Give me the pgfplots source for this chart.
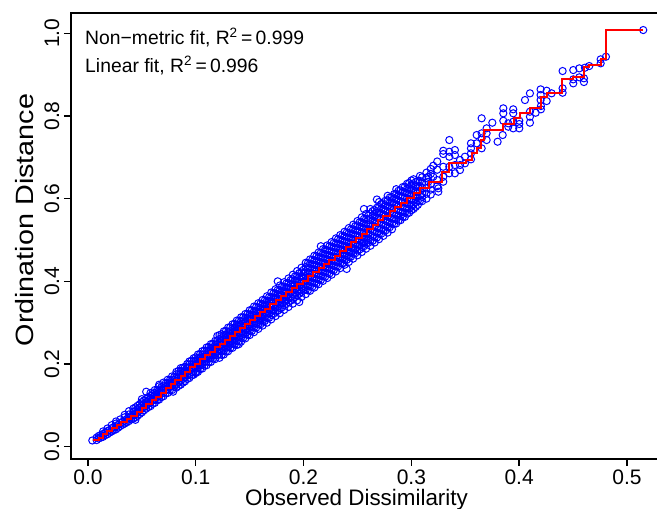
\documentclass[border=0pt]{standalone}
\usepackage{fontspec}
\setmainfont{Liberation Sans}
\usepackage{graphicx}
\usepackage{pgfplots}
\usepackage{pgfplotstable}
\pgfplotsset{compat=1.18}

% dense part of the Shepard cloud: one row per dissimilarity column
\pgfplotstableread{
x a b c d e f g h
0.004 0.015 nan nan nan nan nan nan nan
0.010 0.020 0.026 nan nan nan nan nan nan
0.014 0.024 0.031 0.037 nan nan nan nan nan
0.018 0.030 0.038 0.044 nan nan nan nan nan
0.022 0.037 0.045 0.052 nan nan nan nan nan
0.026 0.042 0.049 0.056 0.061 nan nan nan nan
0.030 0.050 0.058 0.066 nan nan nan nan nan
0.034 0.056 0.063 0.071 0.077 nan nan nan nan
0.038 0.062 0.070 0.078 0.086 nan nan nan nan
0.042 0.068 0.076 0.084 0.092 nan nan nan nan
0.046 0.075 0.083 0.091 0.099 nan nan nan nan
0.050 0.083 0.092 0.100 0.108 0.115 nan nan nan
0.054 0.092 0.100 0.108 0.116 nan nan nan nan
0.058 0.098 0.107 0.115 0.123 0.130 nan nan nan
0.062 0.106 0.114 0.122 0.130 0.137 nan nan nan
0.066 0.114 0.122 0.130 0.138 0.146 nan nan nan
0.070 0.122 0.130 0.138 0.146 0.155 nan nan nan
0.074 0.130 0.138 0.146 0.154 0.162 nan nan nan
0.078 0.137 0.146 0.154 0.162 0.170 nan nan nan
0.082 0.143 0.151 0.159 0.167 0.175 0.181 nan nan
0.086 0.150 0.159 0.167 0.175 0.183 0.190 nan nan
0.090 0.158 0.167 0.176 0.184 0.193 nan nan nan
0.094 0.166 0.174 0.183 0.191 0.199 0.206 nan nan
0.098 0.174 0.183 0.191 0.199 0.207 0.214 nan nan
0.102 0.181 0.190 0.198 0.207 0.215 0.223 nan nan
0.106 0.189 0.198 0.206 0.215 0.223 0.231 nan nan
0.110 0.197 0.206 0.215 0.223 0.232 0.240 nan nan
0.114 0.205 0.214 0.222 0.231 0.239 0.248 nan nan
0.118 0.212 0.221 0.230 0.239 0.247 0.256 nan nan
0.122 0.215 0.224 0.234 0.243 0.252 0.261 0.270 nan
0.126 0.223 0.232 0.242 0.251 0.260 0.270 0.279 nan
0.130 0.231 0.241 0.250 0.260 0.269 0.278 0.288 nan
0.134 0.239 0.249 0.258 0.268 0.277 0.287 0.296 nan
0.138 0.246 0.256 0.266 0.276 0.286 0.295 0.305 nan
0.142 0.254 0.264 0.274 0.284 0.294 0.304 0.313 nan
0.146 0.262 0.272 0.282 0.292 0.302 0.312 0.321 nan
0.150 0.270 0.280 0.290 0.300 0.310 0.320 0.330 nan
0.154 0.277 0.288 0.298 0.308 0.318 0.328 0.339 nan
0.158 0.285 0.296 0.306 0.316 0.326 0.337 0.347 nan
0.162 0.293 0.303 0.314 0.324 0.334 0.345 0.355 nan
0.166 0.300 0.311 0.322 0.332 0.343 0.353 0.364 nan
0.170 0.308 0.319 0.330 0.341 0.352 0.362 0.373 nan
0.174 0.316 0.327 0.338 0.349 0.360 0.371 0.381 nan
0.178 0.323 0.335 0.346 0.357 0.368 0.379 0.390 nan
0.182 0.331 0.342 0.354 0.365 0.376 0.387 0.398 nan
0.186 0.338 0.350 0.362 0.373 0.384 0.396 0.407 nan
0.190 0.346 0.358 0.370 0.381 0.393 0.405 0.416 nan
0.194 0.354 0.366 0.378 0.390 0.401 0.413 0.425 nan
0.198 0.362 0.374 0.386 0.398 0.410 0.421 0.433 nan
0.202 0.369 0.380 0.391 0.402 0.413 0.424 0.435 0.445
0.206 0.377 0.388 0.399 0.410 0.421 0.432 0.443 0.453
0.210 0.385 0.396 0.407 0.418 0.429 0.440 0.451 0.462
0.214 0.393 0.404 0.415 0.426 0.437 0.448 0.459 0.470
0.218 0.401 0.412 0.423 0.434 0.445 0.456 0.467 0.478
0.222 0.408 0.420 0.431 0.442 0.453 0.464 0.475 0.487
0.226 0.416 0.428 0.439 0.450 0.461 0.472 0.484 0.495
0.230 0.424 0.436 0.447 0.458 0.470 0.481 0.492 0.504
0.234 0.432 0.444 0.455 0.467 0.478 0.489 0.501 0.512
0.238 0.440 0.452 0.463 0.475 0.486 0.497 0.509 0.520
0.242 0.447 0.459 0.471 0.483 0.494 0.506 0.517 0.529
0.246 0.455 0.467 0.479 0.491 0.502 0.514 0.526 0.537
0.250 0.463 0.475 0.487 0.499 0.511 0.523 0.535 0.546
0.254 0.471 0.483 0.495 0.507 0.519 0.531 0.543 0.555
0.258 0.479 0.491 0.503 0.515 0.527 0.539 0.551 0.563
0.262 0.486 0.499 0.512 0.525 0.538 0.551 0.564 0.575
0.266 0.494 0.507 0.520 0.533 0.546 0.559 0.572 nan
0.270 0.502 0.515 0.528 0.541 0.554 0.567 0.580 0.592
0.274 0.510 0.523 0.536 0.549 0.562 0.575 0.588 nan
0.278 0.518 0.531 0.544 0.557 0.570 0.583 0.596 0.607
0.282 0.526 0.539 0.552 0.565 0.578 0.591 0.604 nan
0.286 0.540 0.550 0.560 0.573 0.586 0.599 0.612 0.623
0.290 0.548 0.558 0.568 0.581 0.594 0.607 0.620 nan
0.294 0.556 0.566 0.577 0.590 0.603 0.616 0.629 nan
0.298 0.566 0.576 0.586 0.599 0.612 0.625 0.638 nan
0.302 0.575 0.585 0.595 0.608 0.621 0.634 0.647 nan
0.306 0.585 0.595 0.604 0.617 0.630 0.643 nan nan
0.310 0.594 0.604 0.613 0.626 0.639 0.652 nan nan
0.314 0.600 0.612 0.625 0.650 0.663 nan nan nan
0.318 0.610 0.622 0.635 0.660 0.672 nan nan nan
0.324 0.630 0.645 0.670 0.690 nan nan nan nan
}\cloud

% interleaved columns of the dense cloud
\pgfplotstableread{
x a b c d e f g
0.008 0.016 0.022 nan nan nan nan nan
0.012 0.022 0.028 nan nan nan nan nan
0.016 0.028 0.034 nan nan nan nan nan
0.020 0.034 0.040 nan nan nan nan nan
0.024 0.040 0.047 nan nan nan nan nan
0.028 0.046 0.053 nan nan nan nan nan
0.032 0.053 0.060 nan nan nan nan nan
0.036 0.059 0.067 nan nan nan nan nan
0.040 0.066 0.074 nan nan nan nan nan
0.044 0.071 0.079 0.087 0.095 nan nan nan
0.048 0.079 0.087 0.095 0.103 nan nan nan
0.052 0.088 0.096 0.104 0.112 nan nan nan
0.056 0.096 0.104 0.112 0.120 nan nan nan
0.060 0.104 0.112 0.120 0.128 nan nan nan
0.064 0.112 0.120 0.128 0.136 nan nan nan
0.068 0.120 0.128 0.136 0.144 nan nan nan
0.072 0.129 0.137 0.145 0.153 nan nan nan
0.076 0.137 0.145 0.153 0.161 nan nan nan
0.080 0.145 0.153 0.161 0.169 nan nan nan
0.084 0.147 0.156 0.165 0.174 0.183 nan nan
0.088 0.155 0.164 0.173 0.182 0.191 nan nan
0.092 0.164 0.173 0.182 0.191 0.200 nan nan
0.096 0.172 0.181 0.190 0.199 0.208 nan nan
0.100 0.180 0.189 0.198 0.207 0.216 nan nan
0.104 0.188 0.197 0.206 0.215 0.224 nan nan
0.108 0.196 0.205 0.214 0.223 0.232 nan nan
0.112 0.205 0.214 0.223 0.232 0.241 nan nan
0.116 0.213 0.222 0.231 0.240 0.249 nan nan
0.120 0.221 0.230 0.239 0.248 0.257 nan nan
0.124 0.222 0.232 0.242 0.252 0.262 0.272 nan
0.128 0.230 0.240 0.250 0.260 0.270 0.280 nan
0.132 0.239 0.249 0.259 0.269 0.279 0.289 nan
0.136 0.247 0.257 0.267 0.277 0.287 0.297 nan
0.140 0.255 0.265 0.275 0.285 0.295 0.305 nan
0.144 0.263 0.273 0.283 0.293 0.303 0.313 nan
0.148 0.271 0.281 0.291 0.301 0.311 0.321 nan
0.152 0.280 0.290 0.300 0.310 0.320 0.330 nan
0.156 0.288 0.298 0.308 0.318 0.328 0.338 nan
0.160 0.296 0.306 0.316 0.326 0.336 0.346 nan
0.164 0.304 0.314 0.324 0.334 0.344 0.354 nan
0.168 0.312 0.322 0.332 0.342 0.352 0.362 nan
0.172 0.321 0.331 0.341 0.351 0.361 0.371 nan
0.176 0.329 0.339 0.349 0.359 0.369 0.379 nan
0.180 0.337 0.347 0.357 0.367 0.377 0.387 nan
0.184 0.345 0.355 0.365 0.375 0.385 0.395 nan
0.188 0.353 0.363 0.373 0.383 0.393 0.403 nan
0.192 0.362 0.372 0.382 0.392 0.402 0.412 nan
0.196 0.370 0.380 0.390 0.400 0.410 0.420 nan
0.200 0.378 0.388 0.398 0.408 0.418 0.428 nan
0.204 0.378 0.389 0.400 0.411 0.422 0.433 0.444
0.208 0.386 0.397 0.408 0.419 0.430 0.441 0.452
0.212 0.395 0.406 0.417 0.428 0.439 0.450 0.461
0.216 0.403 0.414 0.425 0.436 0.447 0.458 0.469
0.220 0.411 0.422 0.433 0.444 0.455 0.466 0.477
0.224 0.419 0.430 0.441 0.452 0.463 0.474 0.485
0.228 0.427 0.438 0.449 0.460 0.471 0.482 0.493
0.232 0.436 0.447 0.458 0.469 0.480 0.491 0.502
0.236 0.444 0.455 0.466 0.477 0.488 0.499 0.510
0.240 0.452 0.463 0.474 0.485 0.496 0.507 0.518
0.244 0.460 0.471 0.482 0.493 0.504 0.515 0.526
0.248 0.468 0.479 0.490 0.501 0.512 0.523 0.534
0.252 0.477 0.488 0.499 0.510 0.521 0.532 0.543
0.256 0.485 0.496 0.507 0.518 0.529 0.540 0.551
0.260 0.493 0.504 0.515 0.526 0.537 0.548 0.559
0.264 0.498 0.510 0.522 0.534 0.546 0.558 0.570
0.268 0.506 0.518 0.530 0.542 0.554 0.566 0.578
0.272 0.515 0.527 0.539 0.551 0.563 0.575 0.587
0.276 0.523 0.535 0.547 0.559 0.571 0.583 0.595
0.280 0.531 0.543 0.555 0.567 0.579 0.591 0.603
0.284 0.539 0.551 0.563 0.575 0.587 0.599 0.611
0.288 0.547 0.559 0.571 0.583 0.595 0.607 0.619
0.292 0.556 0.568 0.580 0.592 0.604 0.616 0.628
0.296 0.564 0.576 0.588 0.600 0.612 0.624 0.636
0.300 0.572 0.584 0.596 0.608 0.620 0.632 0.644
0.304 0.580 0.592 0.604 0.616 0.628 0.640 nan
0.308 0.595 0.607 0.619 0.631 0.643 0.655 nan
}\cloudb

% sparse points and outliers
\pgfplotstableread{
x y
0.044 0.065
0.054 0.133
0.079 0.133
0.100 0.178
0.066 0.150
0.120 0.268
0.140 0.248
0.176 0.400
0.196 0.350
0.216 0.485
0.240 0.430
0.256 0.575
0.268 0.598
0.3157 0.6410
0.3157 0.6531
0.3203 0.6531
0.3203 0.6797
0.3250 0.6168
0.3250 0.6250
0.3296 0.6410
0.3296 0.6531
0.3296 0.6773
0.3296 0.7080
0.3296 0.7160
0.3352 0.6614
0.3352 0.6773
0.3352 0.7015
0.3352 0.7136
0.3352 0.7419
0.3404 0.6614
0.3404 0.6814
0.3404 0.7056
0.3404 0.7177
0.3451 0.6693
0.3451 0.6814
0.3451 0.6935
0.3497 0.6855
0.3497 0.7015
0.3553 0.6952
0.3553 0.7097
0.3553 0.7218
0.3553 0.7339
0.3606 0.7339
0.3606 0.7540
0.3652 0.7218
0.3652 0.7460
0.3652 0.7581
0.3652 0.7944
0.3698 0.7419
0.3698 0.7581
0.3698 0.7702
0.3751 0.7838
0.3800 0.7378
0.3847 0.7540
0.3853 0.7886
0.3853 0.8065
0.3853 0.8186
0.3899 0.7741
0.3899 0.7823
0.3945 0.7702
0.3945 0.7862
0.3945 0.8065
0.3945 0.8162
0.4001 0.7702
0.4001 0.7806
0.4001 0.7886
0.4054 0.8386
0.4100 0.7838
0.4100 0.7983
0.4100 0.8104
0.4100 0.8549
0.4153 0.8079
0.4202 0.8162
0.4202 0.8241
0.4199 0.8387
0.4199 0.8508
0.4199 0.8645
0.4255 0.8362
0.4255 0.8612
0.4301 0.8549
0.4403 0.8563
0.4403 0.8670
0.4403 0.9088
0.4502 0.8790
0.4502 0.8887
0.4502 0.9112
0.4558 0.8936
0.4558 0.9153
0.4601 0.8822
0.4601 0.8912
0.4610 0.9168
0.4650 0.9209
0.4756 0.9274
0.4756 0.9371
0.4805 0.9434
0.5151 1.0080
}\sparse

% isotonic (non-metric) fit, drawn as steps
\pgfplotstableread{
x y
0.005 0.015
0.010 0.022
0.014 0.030
0.018 0.037
0.022 0.044
0.027 0.052
0.031 0.059
0.036 0.067
0.040 0.074
0.045 0.083
0.050 0.093
0.054 0.103
0.059 0.112
0.063 0.121
0.068 0.131
0.072 0.141
0.077 0.152
0.081 0.161
0.086 0.172
0.090 0.181
0.095 0.192
0.099 0.201
0.104 0.211
0.109 0.221
0.113 0.230
0.118 0.240
0.122 0.249
0.127 0.259
0.132 0.268
0.136 0.277
0.141 0.287
0.146 0.296
0.150 0.306
0.155 0.315
0.160 0.325
0.164 0.334
0.169 0.344
0.174 0.354
0.179 0.364
0.184 0.374
0.189 0.383
0.194 0.393
0.199 0.402
0.204 0.412
0.209 0.422
0.214 0.432
0.219 0.442
0.224 0.452
0.229 0.462
0.234 0.473
0.239 0.483
0.244 0.494
0.249 0.505
0.254 0.515
0.259 0.526
0.264 0.537
0.269 0.548
0.274 0.558
0.280 0.569
0.285 0.580
0.290 0.590
0.296 0.601
0.302 0.613
0.308 0.625
0.316 0.641
0.328 0.665
0.335 0.686
0.351 0.694
0.356 0.710
0.361 0.722
0.365 0.742
0.367 0.766
0.385 0.781
0.395 0.794
0.401 0.807
0.410 0.819
0.420 0.847
0.426 0.855
0.440 0.889
0.450 0.895
0.460 0.919
0.465 0.923
0.476 0.937
0.481 0.943
0.481 1.008
0.515 1.008
}\fit

\begin{document}
\begin{tikzpicture}
\begin{axis}[
  set layers=standard,
  at={(0,0)}, anchor=south west,
  scale only axis, width=445.5pt, height=334.3pt,
  xmin=-0.01577, xmax=0.5353, ymin=-0.0298, ymax=1.0486,
  axis line style={line width=1.2pt, black},
  xtick={0,0.1,0.2,0.3,0.4,0.5},
  xticklabels={0.0,0.1,0.2,0.3,0.4,0.5},
  ytick={0,0.2,0.4,0.6,0.8,1.0},
  yticklabels={0.0,0.2,0.4,0.6,0.8,1.0},
  xtick pos=bottom, ytick pos=left,
  tick align=outside, major tick length=5.25pt,
  tick style={line width=1pt, black},
  ticklabel style={font=\fontsize{15.75}{18}\selectfont},
  xticklabel style={yshift=1pt},
  yticklabel style={rotate=90, anchor=south},
  xlabel={Observed Dissimilarity},
  xlabel style={at={(axis description cs:0.4806,-0.0905)}, anchor=center,
                font=\fontsize{16.8}{20}\selectfont},
  ylabel={\scalebox{1.15}[1]{Ordination Distance}},
  ylabel style={at={(axis description cs:-0.0774,0.536)}, anchor=center,
                font=\fontsize{18.75}{22}\selectfont},
  clip=false,
]
\pgfplotsinvokeforeach{a,b,c,d,e,f,g,h}{
  \addplot[only marks, mark=o, mark size=2.7pt, blue,
           mark options={line width=0.75pt}] table[x=x, y=#1] {\cloud};
}
\pgfplotsinvokeforeach{a,b,c,d,e,f,g}{
  \addplot[only marks, mark=o, mark size=2.7pt, blue,
           mark options={line width=0.75pt}] table[x=x, y=#1] {\cloudb};
}
\addplot[only marks, mark=o, mark size=2.7pt, blue,
         mark options={line width=0.75pt}] table[x=x, y=y] {\sparse};
\addplot[const plot, red, line width=1.5pt, no marks, on layer=axis foreground]
  table[x=x, y=y] {\fit};
\node[anchor=base west, inner sep=0pt, font=\fontsize{14.5}{17}\selectfont]
  at (axis cs:-0.0028,0.9734) {Non−metric fit, R\textsuperscript{2}\,=\,0.999};
\node[anchor=base west, inner sep=0pt, font=\fontsize{14.5}{17}\selectfont]
  at (axis cs:-0.0028,0.9047) {Linear fit, R\textsuperscript{2}\,=\,0.996};
\end{axis}
\pgfresetboundingbox
\useasboundingbox (-53.25pt,-37.5pt) rectangle (439.5pt,344.25pt);
\end{tikzpicture}
\end{document}
